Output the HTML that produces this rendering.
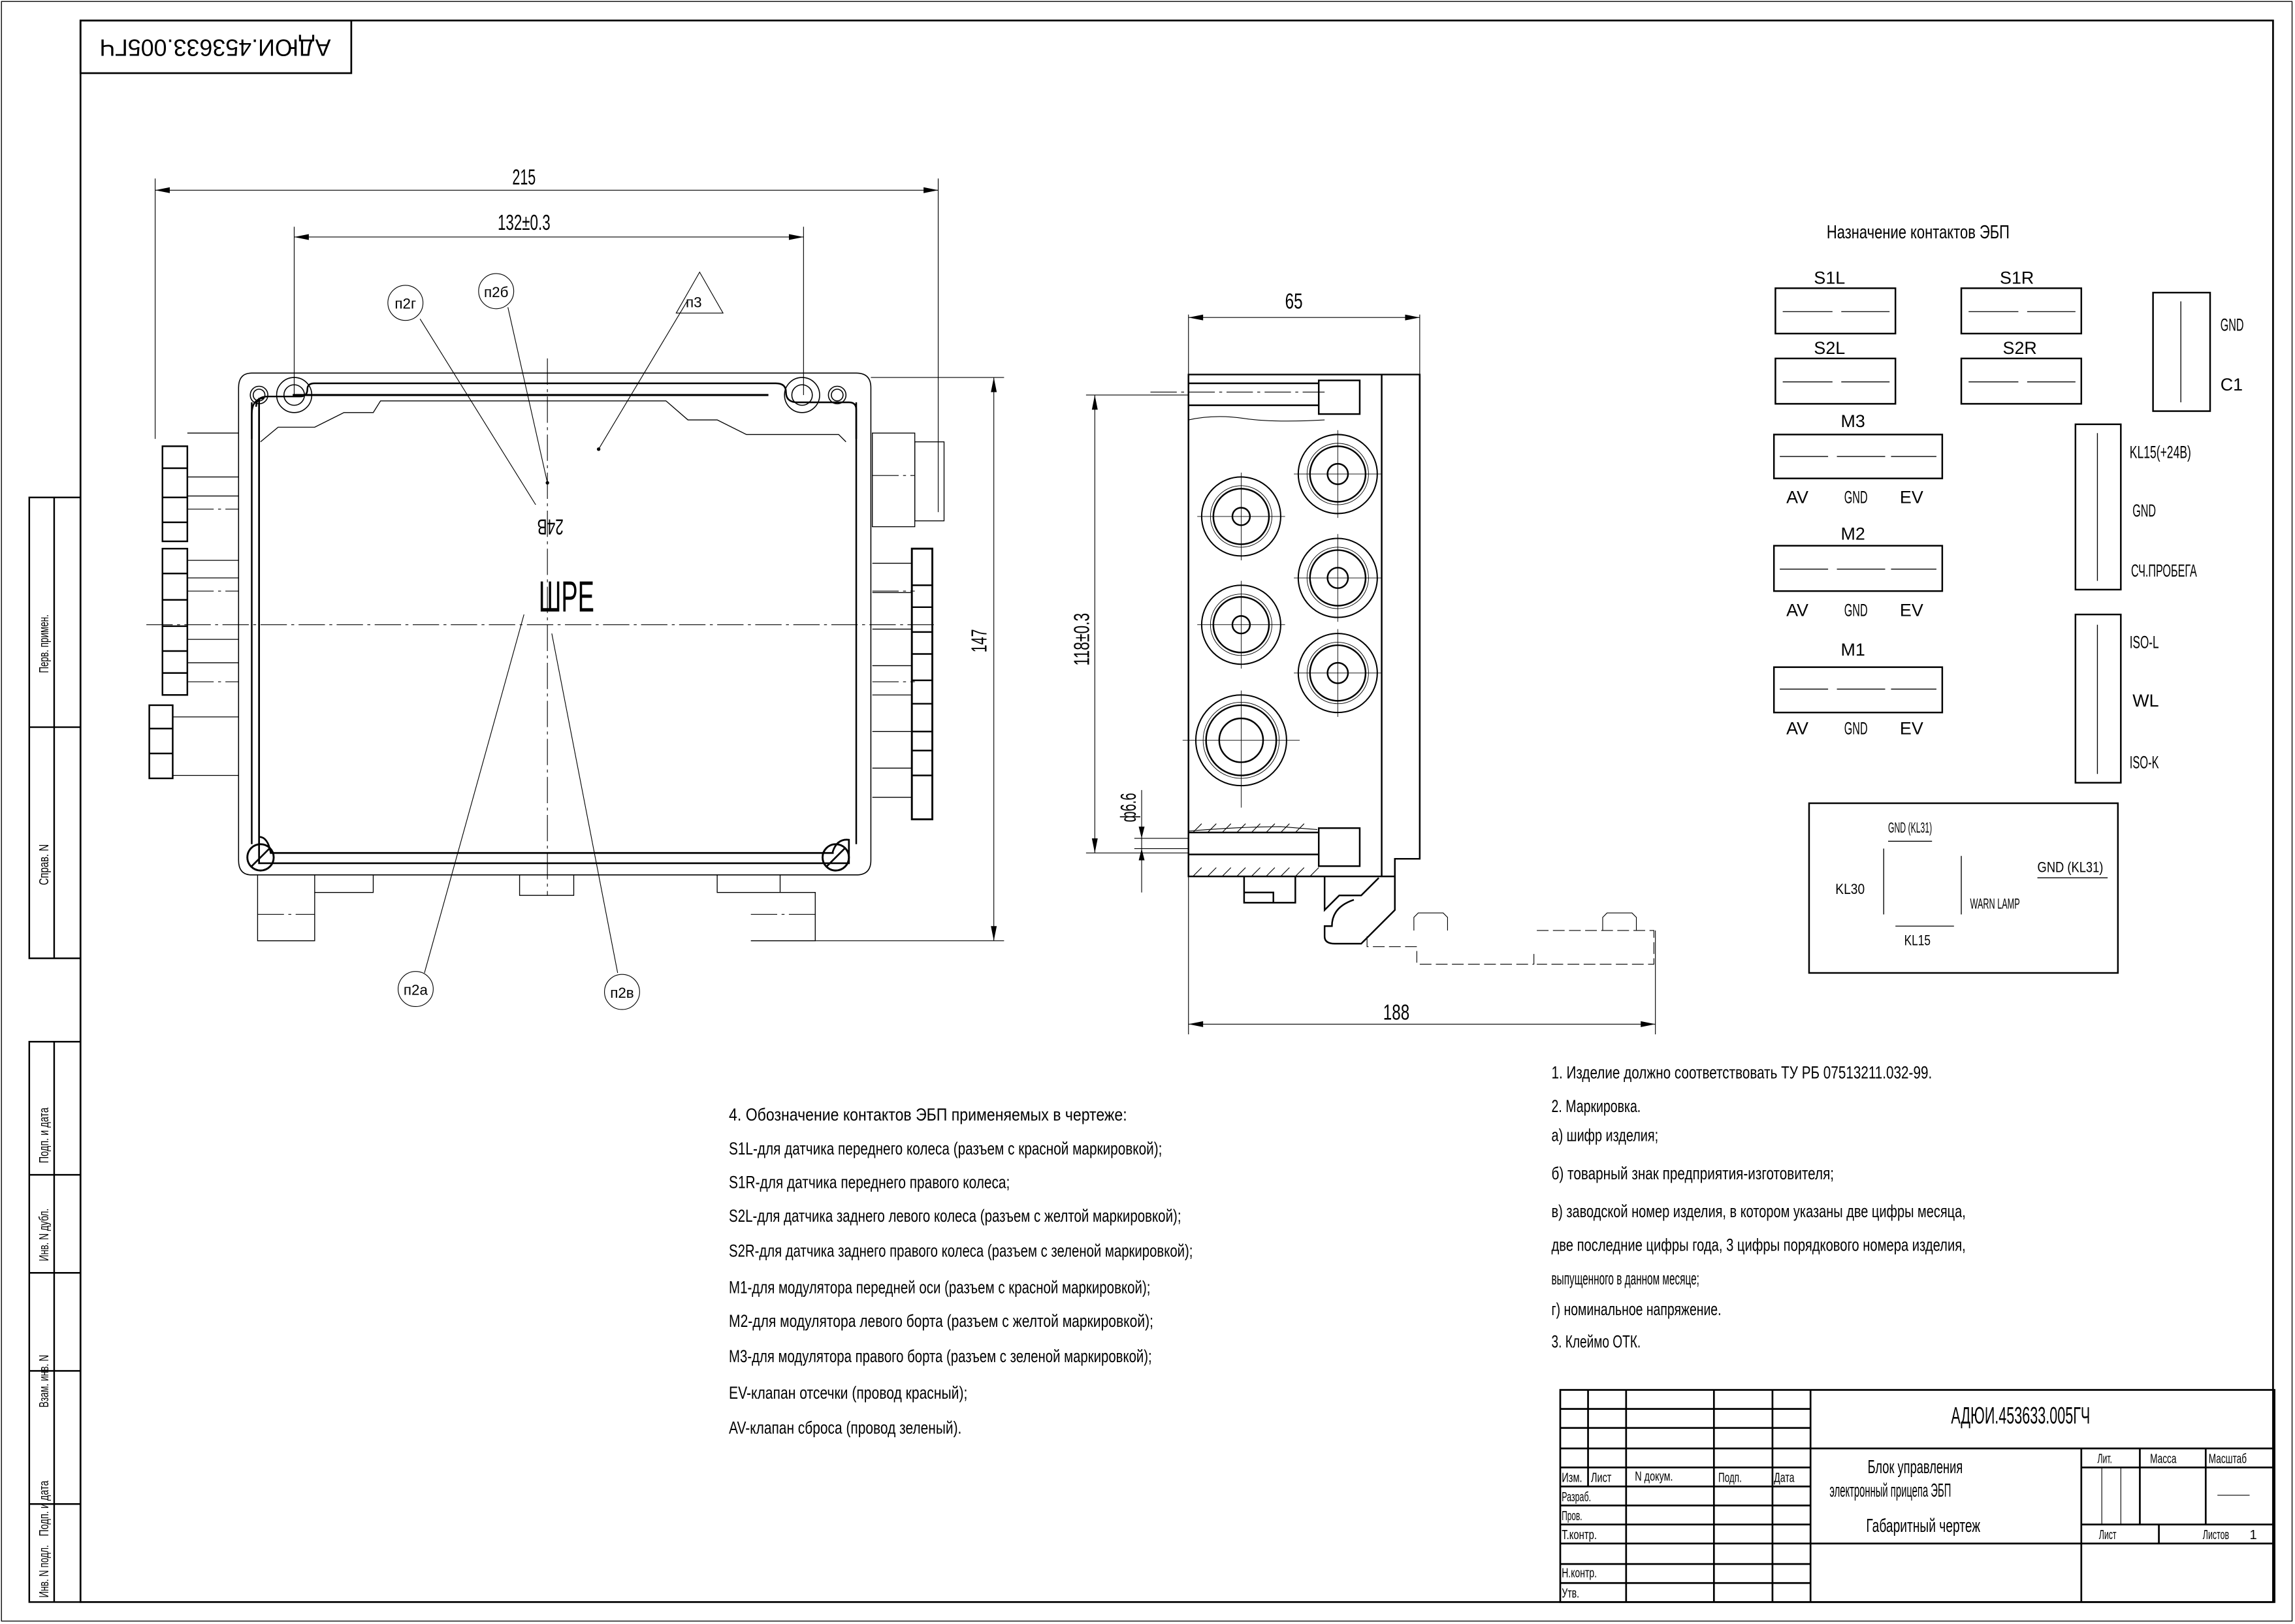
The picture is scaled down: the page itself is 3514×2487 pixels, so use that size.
<!DOCTYPE html>
<html><head><meta charset="utf-8"><style>
html,body{margin:0;padding:0;background:#fff}
svg{display:block}
text{font-family:"Liberation Sans Narrow","Liberation Sans","Noto Sans CJK SC",sans-serif;fill:#000}
</style></head><body>
<svg width="3514" height="2487" viewBox="0 0 1568 1110" preserveAspectRatio="none" xmlns="http://www.w3.org/2000/svg">
<g fill="none" stroke="#000" stroke-width="0.6">
<rect x="1" y="1" width="1565" height="1107"/>
<rect x="55" y="14" width="1498" height="1081" stroke-width="1.2"/>
<rect x="55" y="14" width="185" height="36" stroke-width="1.2"/>
<g stroke-width="1.1">
<rect x="20" y="340" width="35" height="315"/>
<line x1="37" y1="340" x2="37" y2="655"/>
<line x1="20" y1="497" x2="55" y2="497"/>
<rect x="20" y="712" width="35" height="383"/>
<line x1="37" y1="712" x2="37" y2="1095"/>
<line x1="20" y1="803" x2="55" y2="803"/>
<line x1="20" y1="870" x2="55" y2="870"/>
<line x1="20" y1="937" x2="55" y2="937"/>
<line x1="20" y1="1028" x2="55" y2="1028"/>
</g>

<g stroke-width="1.1">
<path d="M172,255 H585 Q595,255 595,265 V588 Q595,598 585,598 H172 Q163,598 163,588 V265 Q163,255 172,255 Z" stroke-width="0.7"/>
<path d="M177,272 V590 H580 V574 Q572,573 569,582 V583 H185 Q183,572 177,572 Z" stroke-width="1.2"/>
<path d="M172,275 V577 M585,275 V577" />
<path d="M175,278 Q175,271 183,271 H205 Q210,271 210,266 Q210,262 215,262 H530 Q537,262 537,268 Q537,275 545,275 H580 Q585,275 585,280 V300"/>
<path d="M172,300 V283 Q172,273 180,272"/>
<path d="M178,302 L190,292 H215 L235,282 H255 L260,274 H455 L470,287 H490 L510,297 H573 L578,302" stroke-width="0.6"/>
<path d="M200,270 H525" stroke-width="1.4"/>
</g>
<g stroke-width="0.7">
<circle cx="201" cy="270" r="12"/><circle cx="201" cy="270" r="7"/>
<circle cx="177" cy="270" r="6"/><circle cx="177" cy="270" r="4"/>
<circle cx="548" cy="270" r="12"/><circle cx="548" cy="270" r="7"/>
<circle cx="572" cy="270" r="6"/><circle cx="572" cy="270" r="4"/>
<circle cx="178" cy="586" r="9" stroke-width="1.3"/><line x1="172" y1="592" x2="184" y2="580" stroke-width="1.2"/>
<circle cx="571" cy="586" r="9" stroke-width="1.3"/><line x1="565" y1="592" x2="577" y2="580" stroke-width="1.2"/>
</g>
<g stroke-width="1.1">
<rect x="111" y="305" width="17" height="65"/>
<rect x="111" y="375" width="17" height="100"/>
<rect x="102" y="482" width="16" height="50"/>
<line x1="111" y1="320" x2="128" y2="320"/><line x1="111" y1="340" x2="128" y2="340"/><line x1="111" y1="357" x2="128" y2="357"/>
<line x1="111" y1="392" x2="128" y2="392"/><line x1="111" y1="410" x2="128" y2="410"/><line x1="111" y1="428" x2="128" y2="428"/><line x1="111" y1="445" x2="128" y2="445"/><line x1="111" y1="460" x2="128" y2="460"/>
<line x1="102" y1="498" x2="118" y2="498"/><line x1="102" y1="515" x2="118" y2="515"/>
</g>
<g stroke-width="0.6">
<path d="M128,296 H163 M128,326 H163 M128,339 H163 M128,383 H163 M128,395 H163 M128,437 H163 M128,453 H163 M118,490 H163 M118,530 H163"/>
<rect x="596" y="296" width="29" height="64"/>
<rect x="625" y="302" width="20" height="54"/>
<path d="M596,385 H623 M596,405 H623 M596,430 H623 M596,455 H623 M596,475 H623 M596,500 H623 M596,525 H623 M596,545 H623"/>
</g>
<rect x="623" y="375" width="14" height="185" stroke-width="1.3"/>
<g stroke-width="1.1">
<path d="M623,400 H637 M623,415 H637 M623,432 H637 M623,447 H637 M623,465 H637 M623,481 H637 M623,500 H637 M623,513 H637 M623,530 H637"/>
</g>
<g stroke-width="0.6">
<path d="M176,598 V643 H215 V610 M215,598 V610 H255 V598"/>
<path d="M355,598 V612 H392 V598"/>
<path d="M490,598 V610 H533 V598 M533,610 H557 V643 H513"/>
</g>
<g stroke-width="0.5" stroke-dasharray="18,3,2,3">
<line x1="374" y1="245" x2="374" y2="612"/>
<line x1="100" y1="427" x2="640" y2="427"/>
<line x1="128" y1="348" x2="163" y2="348"/><line x1="128" y1="404" x2="163" y2="404"/>
<line x1="128" y1="466" x2="163" y2="466"/><line x1="596" y1="466" x2="625" y2="466"/>
<line x1="596" y1="404" x2="625" y2="404"/><line x1="596" y1="325" x2="625" y2="325"/>
<line x1="176" y1="625" x2="215" y2="625"/><line x1="513" y1="625" x2="557" y2="625"/>
</g>
<g stroke-width="0.5">
<line x1="106" y1="122" x2="106" y2="300"/><line x1="641" y1="122" x2="641" y2="350"/>
<line x1="106" y1="130" x2="641" y2="130"/>
<line x1="201" y1="155" x2="201" y2="270"/><line x1="549" y1="155" x2="549" y2="270"/>
<line x1="201" y1="162" x2="549" y2="162"/>
<line x1="595" y1="258" x2="686" y2="258"/><line x1="557" y1="643" x2="686" y2="643"/>
<line x1="679" y1="258" x2="679" y2="643"/>
<line x1="287" y1="218" x2="366" y2="345"/>
<line x1="347" y1="210" x2="374" y2="330"/>
<line x1="470" y1="205" x2="409" y2="307"/>
<line x1="290" y1="665" x2="358" y2="420"/>
<line x1="422" y1="665" x2="377" y2="433"/>
<circle cx="277" cy="207" r="12"/><circle cx="339" cy="199" r="12"/>
<circle cx="284" cy="676" r="12"/><circle cx="425" cy="678" r="12"/>
<path d="M478,186 L462,214 H494 Z"/>
</g>
<g fill="#000" stroke="none">
<path d="M106,130 l10,-2 v4z M641,130 l-10,-2 v4z M201,162 l10,-2 v4z M549,162 l-10,-2 v4z M679,258 l-2,10 h4z M679,643 l-2,-10 h4z"/>
<circle cx="374" cy="330" r="1.2"/><circle cx="409" cy="307" r="1.2"/>
</g>

<g stroke-width="1.1">
<path d="M812,256 H970 V587 H953 V599 H812 Z"/>
<line x1="944" y1="256" x2="944" y2="599"/>
<path d="M812,262 H901 M812,277 H901 M812,555 V599"/>
<rect x="901" y="260" width="28" height="23"/>
<rect x="901" y="566" width="28" height="26"/>
<path d="M812,569 H901 M812,584 H901"/>
<path d="M850,599 V617 H885 V599 M850,610 H870 V617"/>
<path d="M905,599 V622 L915,612 H930 L942,600 M953,599 V622 L930,645 H912 Q905,645 905,640 V633 H910 Q910,620 925,615"/>
</g>
<g stroke-width="0.5">
<path d="M812,287 Q830,283 850,286 T905,287"/>
<path d="M812,568 Q850,565 875,565 L900,567"/>
<path d="M815,569 l6,-6 M825,569 l6,-6 M835,569 l6,-6 M845,569 l6,-6 M855,569 l6,-6 M865,569 l6,-6 M875,569 l6,-6 M885,569 l6,-6 M815,599 l6,-6 M825,599 l6,-6 M835,599 l6,-6 M845,599 l6,-6 M855,599 l6,-6 M865,599 l6,-6 M875,599 l6,-6 M885,599 l6,-6 M895,599 l6,-6"/>
<path d="M934,640 V647 H968 V659 H1048 V650 M1050,636 H1130 V659 H1050" stroke-dasharray="8,3"/>
<path d="M966,636 V627 l3,-3 h17 l3,3 V636 M1095,636 V627 l3,-3 h17 l3,3 V636"/>
<line x1="812" y1="215" x2="812" y2="256"/><line x1="970" y1="215" x2="970" y2="256"/>
<line x1="812" y1="217" x2="970" y2="217"/>
<line x1="742" y1="270" x2="812" y2="270"/><line x1="742" y1="583" x2="812" y2="583"/>
<line x1="748" y1="270" x2="748" y2="583"/>
<line x1="775" y1="573" x2="812" y2="573"/><line x1="775" y1="580" x2="812" y2="580"/>
<line x1="780" y1="540" x2="780" y2="610"/>
<line x1="812" y1="599" x2="812" y2="707"/><line x1="1131" y1="636" x2="1131" y2="707"/>
<line x1="812" y1="700" x2="1131" y2="700"/>
<path d="M786,268 H905" stroke-dasharray="18,3,2,3"/>
</g>
<g fill="#000" stroke="none">
<path d="M812,217 l10,-2 v4z M970,217 l-10,-2 v4z M748,270 l-2,10 h4z M748,583 l-2,-10 h4z M812,700 l10,-2 v4z M1131,700 l-10,-2 v4z M780,573 l-2,-8 h4z M780,580 l-2,8 h4z"/>
</g>
<g stroke-width="1.1">
<g transform="translate(848,353)"><circle r="27" stroke-width="0.9"/><circle r="19"/><circle r="21" stroke-width="0.4"/><circle r="6"/></g>
<g transform="translate(848,427)"><circle r="27" stroke-width="0.9"/><circle r="19"/><circle r="21" stroke-width="0.4"/><circle r="6"/></g>
<g transform="translate(848,506)"><circle r="31" stroke-width="0.9"/><circle r="24"/><circle r="26" stroke-width="0.4"/><circle r="15"/></g>
<g transform="translate(914,324)"><circle r="27" stroke-width="0.9"/><circle r="19"/><circle r="21" stroke-width="0.4"/><circle r="7"/></g>
<g transform="translate(914,395)"><circle r="27" stroke-width="0.9"/><circle r="19"/><circle r="21" stroke-width="0.4"/><circle r="7"/></g>
<g transform="translate(914,460)"><circle r="27" stroke-width="0.9"/><circle r="19"/><circle r="21" stroke-width="0.4"/><circle r="7"/></g>
</g>
<g stroke-width="0.4">
<path d="M818,353 h60 M848,323 v60 M818,427 h60 M848,397 v60 M808,506 h80 M848,472 v80 M884,324 h60 M914,294 v60 M884,395 h60 M914,365 v60 M884,460 h60 M914,430 v60"/>
</g>

<g stroke-width="1.1">
<rect x="1213" y="197" width="82" height="31"/><rect x="1340" y="197" width="82" height="31"/>
<rect x="1213" y="245" width="82" height="31"/><rect x="1340" y="245" width="82" height="31"/>
<rect x="1471" y="200" width="39" height="81"/>
<rect x="1212" y="297" width="115" height="30"/>
<rect x="1212" y="373" width="115" height="31"/>
<rect x="1212" y="456" width="115" height="31"/>
<rect x="1418" y="290" width="31" height="113"/>
<rect x="1418" y="420" width="31" height="115"/>
<rect x="1236" y="549" width="211" height="116"/>
</g>
<g stroke-width="0.6">
<path d="M1218,213 h34 M1258,213 h33 M1345,213 h34 M1385,213 h33 M1218,261 h34 M1258,261 h33 M1345,261 h34 M1385,261 h33"/>
<path d="M1490,206 V275"/>
<path d="M1216,312 h33 M1255,312 h33 M1292,312 h31 M1216,389 h33 M1255,389 h33 M1292,389 h31 M1216,471 h33 M1255,471 h33 M1292,471 h31"/>
<path d="M1433,296 V397 M1433,427 V529"/>
<path d="M1287,580 V625 M1340,585 V625 M1290,575 H1320 M1295,633 H1335 M1392,600 H1440"/>
</g>
</g>

<g font-size="15">
<text x="147" y="37" font-size="16" transform="rotate(180 147 32)" text-anchor="middle" textLength="158" lengthAdjust="spacingAndGlyphs">АДЮИ.453633.005ГЧ</text>
<text x="358" y="126" text-anchor="middle" textLength="16" lengthAdjust="spacingAndGlyphs">215</text>
<text x="358" y="157" text-anchor="middle" textLength="36" lengthAdjust="spacingAndGlyphs">132±0.3</text>
<text x="884" y="211" text-anchor="middle" textLength="12" lengthAdjust="spacingAndGlyphs">65</text>
<text x="954" y="697" text-anchor="middle" textLength="18" lengthAdjust="spacingAndGlyphs">188</text>
<text transform="translate(674,438) rotate(-90)" text-anchor="middle" textLength="16" lengthAdjust="spacingAndGlyphs">147</text>
<text transform="translate(744,437) rotate(-90)" text-anchor="middle" textLength="36" lengthAdjust="spacingAndGlyphs">118±0.3</text>
<text transform="translate(776,552) rotate(-90)" text-anchor="middle" textLength="20" lengthAdjust="spacingAndGlyphs">ф6.6</text>
<text x="376" y="365" text-anchor="middle" transform="rotate(180 376 360)" textLength="18" lengthAdjust="spacingAndGlyphs">24В</text>
<text x="387" y="418" font-size="30" text-anchor="middle" textLength="38" lengthAdjust="spacingAndGlyphs">ШРЕ</text>
<g font-size="10" text-anchor="middle"><text x="277" y="211">п2г</text><text x="339" y="203">п2б</text><text x="284" y="680">п2а</text><text x="425" y="682">п2в</text><text x="474" y="210">п3</text></g>
<text x="1248" y="163" font-size="13" textLength="125" lengthAdjust="spacingAndGlyphs">Назначение контактов ЭБП</text>
<g font-size="12" text-anchor="middle">
<text x="1250" y="194">S1L</text><text x="1378" y="194">S1R</text>
<text x="1250" y="242">S2L</text><text x="1380" y="242">S2R</text>
<text x="1266" y="292">М3</text><text x="1266" y="369">М2</text><text x="1266" y="448">М1</text>
<text x="1228" y="344">AV</text><text x="1268" y="344" textLength="16" lengthAdjust="spacingAndGlyphs">GND</text><text x="1306" y="344">EV</text>
<text x="1228" y="421">AV</text><text x="1268" y="421" textLength="16" lengthAdjust="spacingAndGlyphs">GND</text><text x="1306" y="421">EV</text>
<text x="1228" y="502">AV</text><text x="1268" y="502" textLength="16" lengthAdjust="spacingAndGlyphs">GND</text><text x="1306" y="502">EV</text>
</g>
<g font-size="12">
<text x="1517" y="226" textLength="16" lengthAdjust="spacingAndGlyphs">GND</text><text x="1517" y="267">С1</text>
<text x="1455" y="313" textLength="42" lengthAdjust="spacingAndGlyphs">KL15(+24В)</text><text x="1457" y="353" textLength="16" lengthAdjust="spacingAndGlyphs">GND</text><text x="1456" y="394" textLength="45" lengthAdjust="spacingAndGlyphs">СЧ.ПРОБЕГА</text>
<text x="1455" y="443" textLength="20" lengthAdjust="spacingAndGlyphs">ISO-L</text><text x="1457" y="483">WL</text><text x="1455" y="525" textLength="20" lengthAdjust="spacingAndGlyphs">ISO-K</text>
</g>
<g font-size="10">
<text x="1290" y="569" textLength="30" lengthAdjust="spacingAndGlyphs">GND (KL31)</text><text x="1392" y="596" textLength="45" lengthAdjust="spacingAndGlyphs">GND (KL31)</text>
<text x="1254" y="611" textLength="20" lengthAdjust="spacingAndGlyphs">KL30</text><text x="1346" y="621" textLength="34" lengthAdjust="spacingAndGlyphs">WARN LAMP</text><text x="1301" y="646" textLength="18" lengthAdjust="spacingAndGlyphs">KL15</text>
</g>
<g font-size="12" lengthAdjust="spacingAndGlyphs">
<text x="498" y="766" textLength="272" lengthAdjust="spacingAndGlyphs">4. Обозначение контактов ЭБП применяемых в чертеже:</text>
<text x="498" y="789" textLength="296" lengthAdjust="spacingAndGlyphs">S1L-для датчика переднего колеса (разъем с красной маркировкой);</text>
<text x="498" y="812" textLength="192" lengthAdjust="spacingAndGlyphs">S1R-для датчика переднего правого колеса;</text>
<text x="498" y="835" textLength="309" lengthAdjust="spacingAndGlyphs">S2L-для датчика заднего левого колеса (разъем с желтой маркировкой);</text>
<text x="498" y="859" textLength="317" lengthAdjust="spacingAndGlyphs">S2R-для датчика заднего правого колеса (разъем с зеленой маркировкой);</text>
<text x="498" y="884" textLength="288" lengthAdjust="spacingAndGlyphs">М1-для модулятора передней оси (разъем с красной маркировкой);</text>
<text x="498" y="907" textLength="290" lengthAdjust="spacingAndGlyphs">М2-для модулятора левого борта (разъем с желтой маркировкой);</text>
<text x="498" y="931" textLength="289" lengthAdjust="spacingAndGlyphs">М3-для модулятора правого борта (разъем с зеленой маркировкой);</text>
<text x="498" y="956" textLength="163" lengthAdjust="spacingAndGlyphs">EV-клапан отсечки (провод красный);</text>
<text x="498" y="980" textLength="159" lengthAdjust="spacingAndGlyphs">AV-клапан сброса (провод зеленый).</text>
<text x="1060" y="737" textLength="260" lengthAdjust="spacingAndGlyphs">1. Изделие должно соответствовать ТУ РБ 07513211.032-99.</text>
<text x="1060" y="760" textLength="61" lengthAdjust="spacingAndGlyphs">2. Маркировка.</text>
<text x="1060" y="780" textLength="73" lengthAdjust="spacingAndGlyphs">а) шифр изделия;</text>
<text x="1060" y="806" textLength="193" lengthAdjust="spacingAndGlyphs">б) товарный знак предприятия-изготовителя;</text>
<text x="1060" y="832" textLength="283" lengthAdjust="spacingAndGlyphs">в) заводской номер изделия, в котором указаны две цифры месяца,</text>
<text x="1060" y="855" textLength="283" lengthAdjust="spacingAndGlyphs">две последние цифры года, 3 цифры порядкового номера изделия,</text>
<text x="1060" y="878" textLength="101" lengthAdjust="spacingAndGlyphs">выпущенного в данном месяце;</text>
<text x="1060" y="899" textLength="116" lengthAdjust="spacingAndGlyphs">г) номинальное напряжение.</text>
<text x="1060" y="921" textLength="61" lengthAdjust="spacingAndGlyphs">3. Клеймо ОТК.</text>
</g>
<g font-size="9" transform="rotate(-90)">
<text x="-460" y="33" textLength="40" lengthAdjust="spacingAndGlyphs">Перв. примен.</text>
<text x="-605" y="33" textLength="28" lengthAdjust="spacingAndGlyphs">Справ. N</text>
<text x="-795" y="33" textLength="38" lengthAdjust="spacingAndGlyphs">Подп. и дата</text>
<text x="-862" y="33" textLength="36" lengthAdjust="spacingAndGlyphs">Инв. N дубл.</text>
<text x="-962" y="33" textLength="36" lengthAdjust="spacingAndGlyphs">Взам. инв. N</text>
<text x="-1050" y="33" textLength="38" lengthAdjust="spacingAndGlyphs">Подп. и дата</text>
<text x="-1092" y="33" textLength="36" lengthAdjust="spacingAndGlyphs">Инв. N подл.</text>
</g>
</g>

<g fill="none" stroke="#000" stroke-width="1.2">
<rect x="1066" y="950" width="488" height="145"/>
<path d="M1085,950 V1016 M1111,950 V1095 M1171,950 V1095 M1211,950 V1095 M1237,950 V1095"/>
<path d="M1066,963 H1237 M1066,976 H1237 M1066,990 H1554 M1066,1003 H1237 M1066,1016 H1237 M1066,1029 H1237 M1066,1042 H1237 M1066,1055 H1554 M1066,1069 H1237 M1066,1082 H1237"/>
<path d="M1422,990 V1095 M1462,990 V1042 M1507,990 V1042 M1475,1042 V1055 M1422,1003 H1554 M1422,1042 H1554"/>
<path d="M1436,1003 V1042 M1449,1003 V1042 M1515,1022 H1537" stroke-width="0.5"/>
</g>
<g font-size="9">
<text x="1067" y="1013" textLength="14" lengthAdjust="spacingAndGlyphs">Изм.</text><text x="1087" y="1013" textLength="14" lengthAdjust="spacingAndGlyphs">Лист</text><text x="1117" y="1012" textLength="26" lengthAdjust="spacingAndGlyphs">N докум.</text><text x="1174" y="1013" textLength="16" lengthAdjust="spacingAndGlyphs">Подп.</text><text x="1212" y="1013" textLength="14" lengthAdjust="spacingAndGlyphs">Дата</text>
<text x="1067" y="1026" textLength="20" lengthAdjust="spacingAndGlyphs">Разраб.</text><text x="1067" y="1039" textLength="14" lengthAdjust="spacingAndGlyphs">Пров.</text><text x="1067" y="1052" textLength="24" lengthAdjust="spacingAndGlyphs">Т.контр.</text>
<text x="1067" y="1078" textLength="24" lengthAdjust="spacingAndGlyphs">Н.контр.</text><text x="1067" y="1092" textLength="12" lengthAdjust="spacingAndGlyphs">Утв.</text>
<text x="1433" y="1000" textLength="10" lengthAdjust="spacingAndGlyphs">Лит.</text><text x="1469" y="1000" textLength="18" lengthAdjust="spacingAndGlyphs">Масса</text><text x="1509" y="1000" textLength="26" lengthAdjust="spacingAndGlyphs">Масштаб</text>
<text x="1434" y="1052" textLength="12" lengthAdjust="spacingAndGlyphs">Лист</text><text x="1505" y="1052" textLength="18" lengthAdjust="spacingAndGlyphs">Листов</text><text x="1537" y="1052">1</text>
</g>
<text x="1333" y="973" font-size="16" textLength="95" lengthAdjust="spacingAndGlyphs">АДЮИ.453633.005ГЧ</text>
<g font-size="13">
<text x="1276" y="1007" textLength="65" lengthAdjust="spacingAndGlyphs">Блок управления</text>
<text x="1250" y="1023" textLength="83" lengthAdjust="spacingAndGlyphs">электронный прицепа ЭБП</text>
<text x="1275" y="1047" textLength="78" lengthAdjust="spacingAndGlyphs">Габаритный чертеж</text>
</g>
</svg>
</body></html>
